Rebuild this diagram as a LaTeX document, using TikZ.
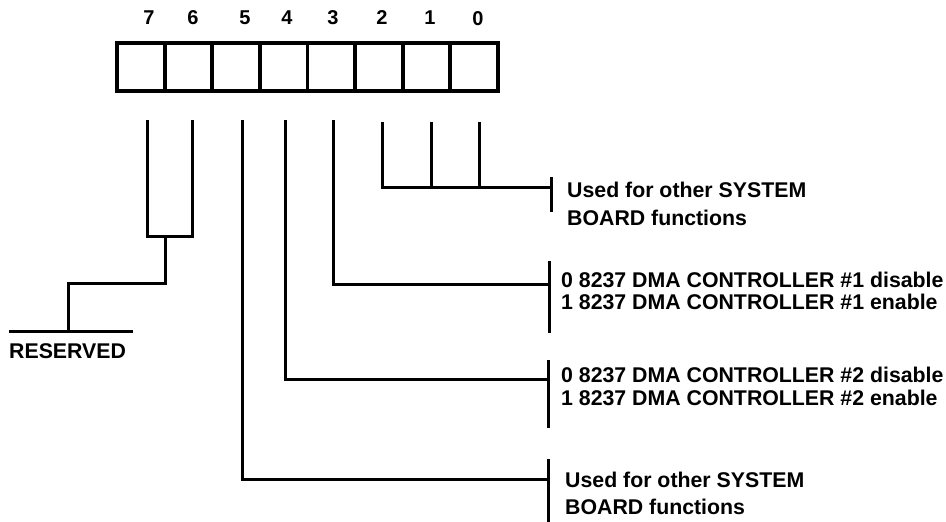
\documentclass[tikz,border=0pt]{standalone}
\usepackage{fontspec}
\setmainfont{Liberation Sans}
\begin{document}
\begin{tikzpicture}[x=1pt,y=-1pt,
  cell/.style={draw, line width=3.8pt, minimum width=47.6pt, minimum height=48pt, inner sep=0pt},
  wire/.style={line width=3pt},
  lbl/.style={font=\fontsize{21.3}{24}\selectfont\bfseries, anchor=base west, inner sep=0pt},
  bitnum/.style={font=\fontsize{20}{22}\selectfont\bfseries, anchor=base, inner sep=0pt}]
\useasboundingbox (0,0) rectangle (946,522);
% register cells
\foreach \b [count=\i from 0] in {7,6,5,4,3,2,1,0}{
  \node[cell] (b\b) at ({117+47.625*(\i+0.5)},67) {};
}
% bit numbers
\node[bitnum] (n7) at (149,24) {7};
\node[bitnum] (n6) at (193,24) {6};
\node[bitnum] (n5) at (245,24) {5};
\node[bitnum] (n4) at (287,24) {4};
\node[bitnum] (n3) at (333,24) {3};
\node[bitnum] (n2) at (382,24) {2};
\node[bitnum] (n1) at (430,24) {1};
\node[bitnum] (n0) at (478,25) {0};
% line tops
\coordinate (t7) at (147,120);
\coordinate (t6) at (192,120);
\coordinate (t5) at (242,120);
\coordinate (t4) at (285,120);
\coordinate (t3) at (333,120);
\coordinate (t2) at (382,122);
\coordinate (t1) at (431,122);
\coordinate (t0) at (479,122);
% bits 7,6 -> reserved
\coordinate (j7) at (147,236);
\coordinate (j6) at (192,236);
\coordinate (m1) at (165,236);
\coordinate (m2) at (165,283);
\coordinate (m3) at (68,283);
\coordinate (m4) at (68,331);
\coordinate (rl) at (9,331);
\coordinate (rr) at (133,331);
\draw[wire] (t7) -- (j7) -- (j6) -- (t6);
\draw[wire] (m1) -- (m2) -- (m3) -- (m4);
\draw[wire] (rl) -- (rr);
\node[lbl] (res) at (9,358) {RESERVED};
% bits 2,1,0
\coordinate (h2) at (382,187);
\coordinate (h1) at (431,187);
\coordinate (h0) at (479,187);
\coordinate (k1) at (551,187);
\coordinate (k1a) at (551,177);
\coordinate (k1b) at (551,212);
\draw[wire] (t2) -- (h2) -- (k1);
\draw[wire] (t1) -- (h1);
\draw[wire] (t0) -- (h0);
\draw[wire] (k1a) -- (k1b);
\node[lbl] (u1) at (567,197) {Used for other SYSTEM};
\node[lbl] (u2) at (567,225) {BOARD functions};
% bit 3
\coordinate (k3) at (549,284);
\coordinate (k3a) at (549,261);
\coordinate (k3b) at (549,333);
\draw[wire] (t3) |- (k3);
\draw[wire] (k3a) -- (k3b);
\node[lbl] (d1a) at (561,287) {0 8237 DMA CONTROLLER \#1 disable};
\node[lbl] (d1b) at (561,309) {1 8237 DMA CONTROLLER \#1 enable};
% bit 4
\coordinate (k4) at (548,379);
\coordinate (k4a) at (548,360);
\coordinate (k4b) at (548,428);
\draw[wire] (t4) |- (k4);
\draw[wire] (k4a) -- (k4b);
\node[lbl] (d2a) at (561,382) {0 8237 DMA CONTROLLER \#2 disable};
\node[lbl] (d2b) at (561,405) {1 8237 DMA CONTROLLER \#2 enable};
% bit 5
\coordinate (k5) at (548,479);
\coordinate (k5a) at (548,459);
\coordinate (k5b) at (548,522);
\draw[wire] (t5) |- (k5);
\draw[wire] (k5a) -- (k5b);
\node[lbl] (v1) at (565,487) {Used for other SYSTEM};
\node[lbl] (v2) at (565,514) {BOARD functions};
\end{tikzpicture}
\end{document}
